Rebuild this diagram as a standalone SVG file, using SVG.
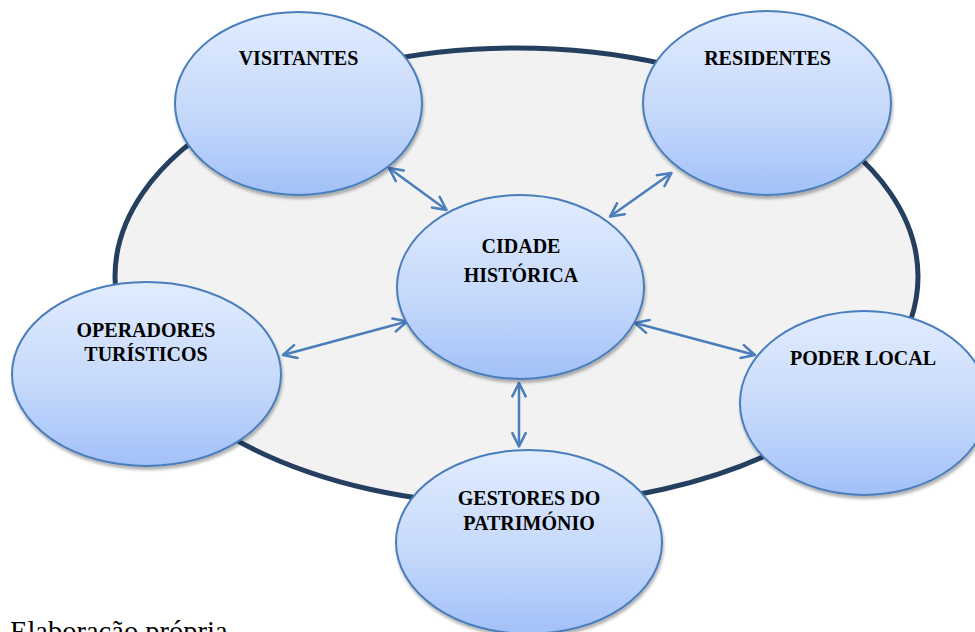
<svg xmlns="http://www.w3.org/2000/svg" width="975" height="632" viewBox="0 0 975 632">
  <defs>
    <linearGradient id="nodeGrad" x1="0" y1="0" x2="0" y2="1">
      <stop offset="0" stop-color="#E1ECFE"/>
      <stop offset="0.55" stop-color="#C6D9FB"/>
      <stop offset="1" stop-color="#A2C0F8"/>
    </linearGradient>
    <filter id="shadow" x="-10%" y="-10%" width="125%" height="130%">
      <feDropShadow dx="1" dy="3" stdDeviation="1.5" flood-color="#000000" flood-opacity="0.3"/>
    </filter>
    <marker id="head" viewBox="0 0 12 12" refX="11" refY="6" markerWidth="16" markerHeight="16" markerUnits="userSpaceOnUse" orient="auto-start-reverse">
      <path d="M1,1 L11,6 L1,11" fill="none" stroke="#4A7EBB" stroke-width="1.9" stroke-linecap="round" stroke-linejoin="round"/>
    </marker>
    <style>
      .node { fill: url(#nodeGrad); stroke: #4A7EBB; stroke-width: 2; filter: url(#shadow); }
      .label { font-family: "Liberation Serif", "Times New Roman", serif; font-weight: bold; font-size: 20px; fill: #000000; text-anchor: middle; }
      .conn { fill: none; stroke: #4A7EBB; stroke-width: 2.5; marker-start: url(#head); marker-end: url(#head); }
      .caption { font-family: "Liberation Serif", "Times New Roman", serif; font-size: 28.5px; fill: #000000; }
    </style>
  </defs>

  <rect x="0" y="0" width="975" height="632" fill="#FFFFFF"/>

  <g id="background">
    <ellipse cx="516.5" cy="276.5" rx="401.5" ry="228.5" fill="#F2F2F2" stroke="#243F60" stroke-width="5"/>
  </g>

  <g id="connectors">
    <line class="conn" x1="389" y1="168" x2="446.5" y2="210"/>
    <line class="conn" x1="671.5" y1="173" x2="610" y2="216.5"/>
    <line class="conn" x1="283" y1="355" x2="407" y2="321.5"/>
    <line class="conn" x1="635" y1="323" x2="755" y2="355"/>
    <line class="conn" x1="519" y1="383" x2="519" y2="446.5"/>
  </g>

  <g id="visitantes">
    <ellipse class="node" cx="298.5" cy="103.5" rx="123.5" ry="91.5"/>
    <text class="label" x="298.5" y="65">VISITANTES</text>
  </g>

  <g id="residentes">
    <ellipse class="node" cx="767" cy="103" rx="124" ry="92"/>
    <text class="label" x="767.5" y="65">RESIDENTES</text>
  </g>

  <g id="cidade-historica">
    <ellipse class="node" cx="520.5" cy="287" rx="123.5" ry="92"/>
    <text class="label" x="521" y="253">CIDADE</text>
    <text class="label" x="521" y="282">HISTÓRICA</text>
  </g>

  <g id="operadores-turisticos">
    <ellipse class="node" cx="146.5" cy="374" rx="134.5" ry="92"/>
    <text class="label" x="146" y="337">OPERADORES</text>
    <text class="label" x="146" y="361">TURÍSTICOS</text>
  </g>

  <g id="poder-local">
    <ellipse class="node" cx="864" cy="403" rx="124" ry="92"/>
    <text class="label" x="863" y="365">PODER LOCAL</text>
  </g>

  <g id="gestores-do-patrimonio">
    <ellipse class="node" cx="529" cy="542" rx="133" ry="92"/>
    <text class="label" x="529" y="505">GESTORES DO</text>
    <text class="label" x="529" y="530">PATRIMÓNIO</text>
  </g>

  <text class="caption" x="10" y="640.5">Elaboração própria</text>
</svg>
